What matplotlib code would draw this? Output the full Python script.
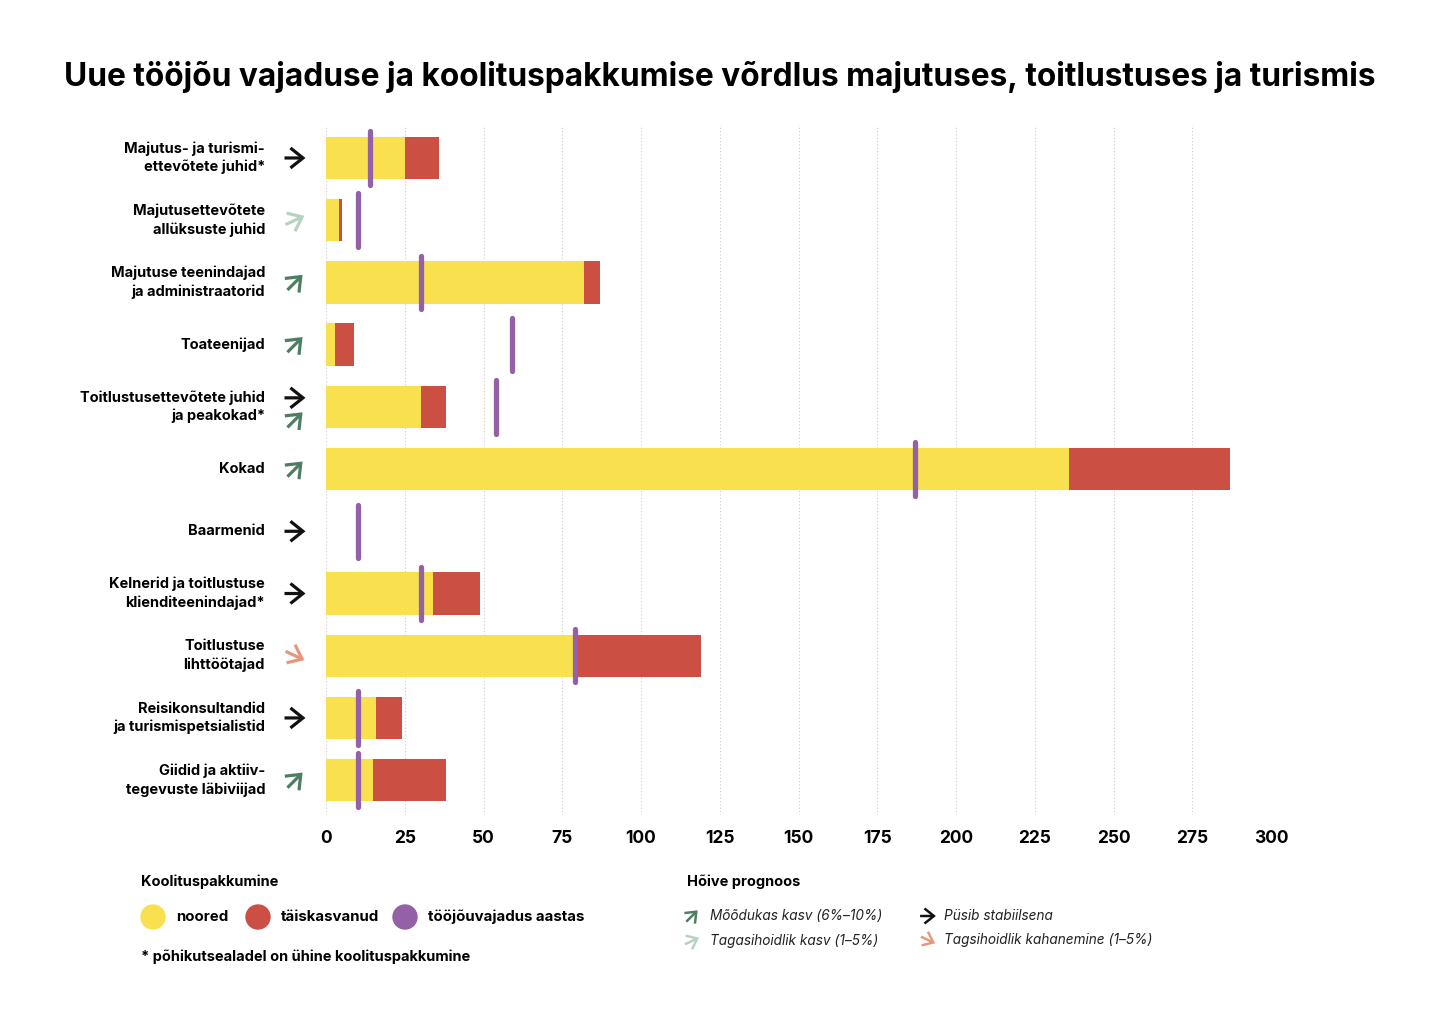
import matplotlib
matplotlib.use("Agg")
import matplotlib.pyplot as plt
import matplotlib.transforms as mtransforms

plt.rcParams['font.family'] = ['Inter', 'DejaVu Sans']

categories = [
    "Majutus- ja turismi-\nettevõtete juhid*",
    "Majutusettevõtete\nallüksuste juhid",
    "Majutuse teenindajad\nja administraatorid",
    "Toateenijad",
    "Toitlustusettevõtete juhid\nja peakokad*",
    "Kokad",
    "Baarmenid",
    "Kelnerid ja toitlustuse\nklienditeenindajad*",
    "Toitlustuse\nlihttöötajad",
    "Reisikonsultandid\nja turismispetsialistid",
    "Giidid ja aktiiv-\ntegevuste läbiviijad",
]
noored = [25, 4, 82, 3, 30, 236, 0, 34, 79, 16, 15]
taiskasvanud = [11, 1, 5, 6, 8, 51, 0, 15, 40, 8, 23]
vajadus = [14, 10, 30, 59, 54, 187, 10, 30, 79, 10, 10]
# trend codes: 'mod' = moderate growth, 'slight' = slight growth, 'stable', 'down'
trends = [["stable"], ["slight"], ["mod"], ["mod"], ["stable", "mod"], ["mod"],
          ["stable"], ["stable"], ["down"], ["stable"], ["mod"]]
xticks = [0, 25, 50, 75, 100, 125, 150, 175, 200, 225, 250, 275, 300]

YELLOW = "#F9E04F"
RED = "#CB4F43"
PURPLE = "#9461A6"
TREND_COL = {"mod": "#4E7D62", "slight": "#B6D3C0", "stable": "#111111", "down": "#E4977C"}

W, H = 1440, 1018
fig = plt.figure(figsize=(W / 100, H / 100), dpi=100)
ax = fig.add_axes([326 / W, 1 - 815 / H, (1271 - 326) / W, (815 - 125) / H])

ys = list(range(len(categories)))
ax.barh(ys, noored, height=0.68, color=YELLOW, edgecolor="none", zorder=2)
ax.barh(ys, taiskasvanud, left=noored, height=0.68, color=RED, edgecolor="none", zorder=2)
for y, v in zip(ys, vajadus):
    ax.plot([v, v], [y - 0.43, y + 0.43], color=PURPLE, lw=3.8, solid_capstyle="round", zorder=3)

ax.set_xlim(0, 300)
ax.set_ylim(len(categories) - 1 + 0.56, -0.53)
ax.set_xticks(xticks)
ax.set_xticklabels([str(t) for t in xticks], fontsize=12.5, fontweight="bold")
ax.tick_params(axis="x", length=0, pad=11)
ax.set_yticks([])
for s in ax.spines.values():
    s.set_visible(False)
ax.grid(axis="x", color="#cccccc", linestyle=(0, (1, 2)), lw=0.8, zorder=0)

ytr = ax.get_yaxis_transform()
for y, lab in zip(ys, categories):
    ax.text((265 - 326) / 945, y, lab, transform=ytr, ha="right", va="center",
            fontsize=10.5, fontweight="bold", linespacing=1.35)


def draw_trend(kind, base_tr, x, y, cx, cy, size=1.0):
    # cx, cy: pixel center offsets
    L = 10.5 * size
    if kind == "stable":
        p0, p1 = (-L, 0), (L, 0)
    elif kind == "mod":
        p0, p1 = (-0.72 * L, -0.72 * L), (0.72 * L, 0.72 * L)
    elif kind == "slight":
        p0, p1 = (-0.9 * L, -0.42 * L), (0.9 * L, 0.42 * L)
    else:
        p0, p1 = (-0.9 * L, 0.42 * L), (0.9 * L, -0.42 * L)
    t0 = mtransforms.offset_copy(base_tr, fig=fig, x=cx + p0[0], y=cy + p0[1], units="dots")
    t1 = mtransforms.offset_copy(base_tr, fig=fig, x=cx + p1[0], y=cy + p1[1], units="dots")
    ax.annotate("", xy=(x, y), xycoords=t1, xytext=(x, y), textcoords=t0,
                arrowprops=dict(arrowstyle="->,head_length=0.45,head_width=0.36",
                                color=TREND_COL[kind], lw=2.1 * size + 0.2,
                                mutation_scale=20 * size, shrinkA=0, shrinkB=0,
                                joinstyle="miter", capstyle="butt"),
                annotation_clip=False)


xa = (295 - 326) / 945
for y, tr in zip(ys, trends):
    if len(tr) == 1:
        draw_trend(tr[0], ytr, xa, y, 0, 0)
    else:
        draw_trend(tr[0], ytr, xa, y, 0, 9)
        draw_trend(tr[1], ytr, xa, y, 0, -13)

# Title
fig.text(0.5, 1 - 77 / H, "Uue tööjõu vajaduse ja koolituspakkumise võrdlus majutuses, toitlustuses ja turismis",
         ha="center", va="center", fontsize=22.8, fontweight="bold")

# Left legend
fig.text(141 / W, 1 - 882 / H, "Koolituspakkumine", ha="left", va="center", fontsize=10.5, fontweight="bold")
for cxp, col, lab in [(153, YELLOW, "noored"), (258, RED, "täiskasvanud"), (405, PURPLE, "tööjõuvajadus aastas")]:
    fig.patches.append(matplotlib.patches.Ellipse((cxp / W, 1 - 917 / H), 24 / W, 24 / H,
                                                  transform=fig.transFigure, color=col))
    fig.text((cxp + 23) / W, 1 - 917 / H, lab, ha="left", va="center", fontsize=10.8, fontweight="bold")
fig.text(141 / W, 1 - 957 / H, "* põhikutsealadel on ühine koolituspakkumine", ha="left", va="center",
         fontsize=10.5, fontweight="bold")

# Right legend
fig.text(687 / W, 1 - 882 / H, "Hõive prognoos", ha="left", va="center", fontsize=10.5, fontweight="bold")
ftr = fig.transFigure
leg = [("mod", 692, 916, "Mõõdukas kasv (6%–10%)", 710),
       ("slight", 692, 941, "Tagasihoidlik kasv (1–5%)", 710),
       ("stable", 928, 916, "Püsib stabiilsena", 944),
       ("down", 928, 940, "Tagsihoidlik kahanemine (1–5%)", 944)]
for kind, ax_, ay_, lab, tx in leg:
    draw_trend(kind, ftr, ax_ / W, 1 - ay_ / H, 0, 0, size=0.75)
    fig.text(tx / W, 1 - ay_ / H, lab, ha="left", va="center", fontsize=9.8, style="italic", color="#222222")

fig.savefig("out.png", dpi=100, facecolor="white")
